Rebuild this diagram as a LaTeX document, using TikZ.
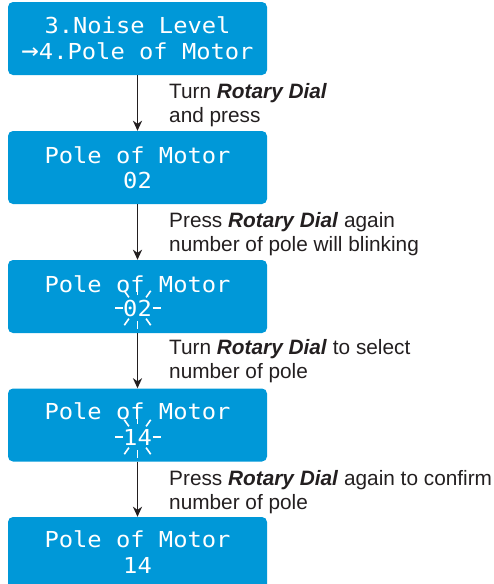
\documentclass[tikz,border=0pt]{standalone}
\usepackage{fontspec}
\setmainfont{Liberation Sans}
\newfontfamily\lcdfont[FakeStretch=1.08]{DejaVu Sans Mono}
\usetikzlibrary{arrows.meta}
\definecolor{lcdblue}{RGB}{0,152,216}
\definecolor{ink}{RGB}{35,31,32}
\begin{document}
\begin{tikzpicture}[x=1pt,y=-1pt,
  lcd/.style={fill=lcdblue, rounded corners=5pt, minimum width=259pt, minimum height=73pt, inner sep=0pt, draw=none},
  lcdtxt/.style={text=white, font=\lcdfont\fontsize{22}{22}\selectfont, anchor=base, inner sep=0pt},
  lbl/.style={text=ink, font=\fontsize{20.8}{24}\selectfont, anchor=base west, inner sep=0pt},
  arr/.style={draw=ink, line width=1.8pt, -{Stealth[length=10pt,width=9pt,inset=3pt]}},
  ray/.style={draw=white, line width=1.6pt}
]
\useasboundingbox (0,0) rectangle (494,584);

% LCD boxes
\node[lcd] (b1) at (137.5,38.5) {};
\node[lcd] (b2) at (137.5,167.5) {};
\node[lcd] (b3) at (137.5,296.5) {};
\node[lcd] (b4) at (137.5,425) {};
\node[lcd, minimum height=80pt] (b5) at (137.5,557) {};

% LCD texts
\node[lcdtxt] (t1a) at (137.5,33) {3.Noise Level};
\node[lcdtxt] (t1b) at (137.5,59) {{\fontsize{27}{22}\selectfont →}4.Pole of Motor};
\node[lcdtxt] (t2a) at (137.5,163) {Pole of Motor};
\node[lcdtxt] (t2b) at (137.5,188) {02};
\node[lcdtxt] (t3a) at (137.5,292) {Pole of Motor};
\node[lcdtxt] (t3b) at (137.5,316) {02};
\node[lcdtxt] (t4a) at (137.5,419) {Pole of Motor};
\node[lcdtxt] (t4b) at (137.5,445) {14};
\node[lcdtxt] (t5a) at (137.5,547) {Pole of Motor};
\node[lcdtxt] (t5b) at (137.5,573) {14};

% blinking rays
\foreach \a in {0,55,90,125,180,235,270,305}{
  \draw[ray] (137.5,308) ++({15*cos(\a)},{13*sin(\a)}) -- ++({8*cos(\a)},{8*sin(\a)});
  \draw[ray] (137.5,437) ++({15*cos(\a)},{13*sin(\a)}) -- ++({8*cos(\a)},{8*sin(\a)});
}

% connectors
\draw[arr] (b1.south) -- (b2.north);
\draw[arr] (b2.south) -- (b3.north);
\draw[arr] (b3.south) -- (b4.north);
\draw[arr] (b4.south) -- (b5.north);

% labels
\node[lbl] (l1a) at (169,98) {Turn \textbf{\textit{Rotary Dial}}};
\node[lbl] (l1b) at (169,122) {and press};
\node[lbl] (l2a) at (169,227) {Press \textbf{\textit{Rotary Dial}} again};
\node[lbl] (l2b) at (169,251) {number of pole will blinking};
\node[lbl] (l3a) at (169,354) {Turn \textbf{\textit{Rotary Dial}} to select};
\node[lbl] (l3b) at (169,378) {number of pole};
\node[lbl] (l4a) at (169,485) {Press \textbf{\textit{Rotary Dial}} again to confirm};
\node[lbl] (l4b) at (169,509) {number of pole};
\end{tikzpicture}
\end{document}
